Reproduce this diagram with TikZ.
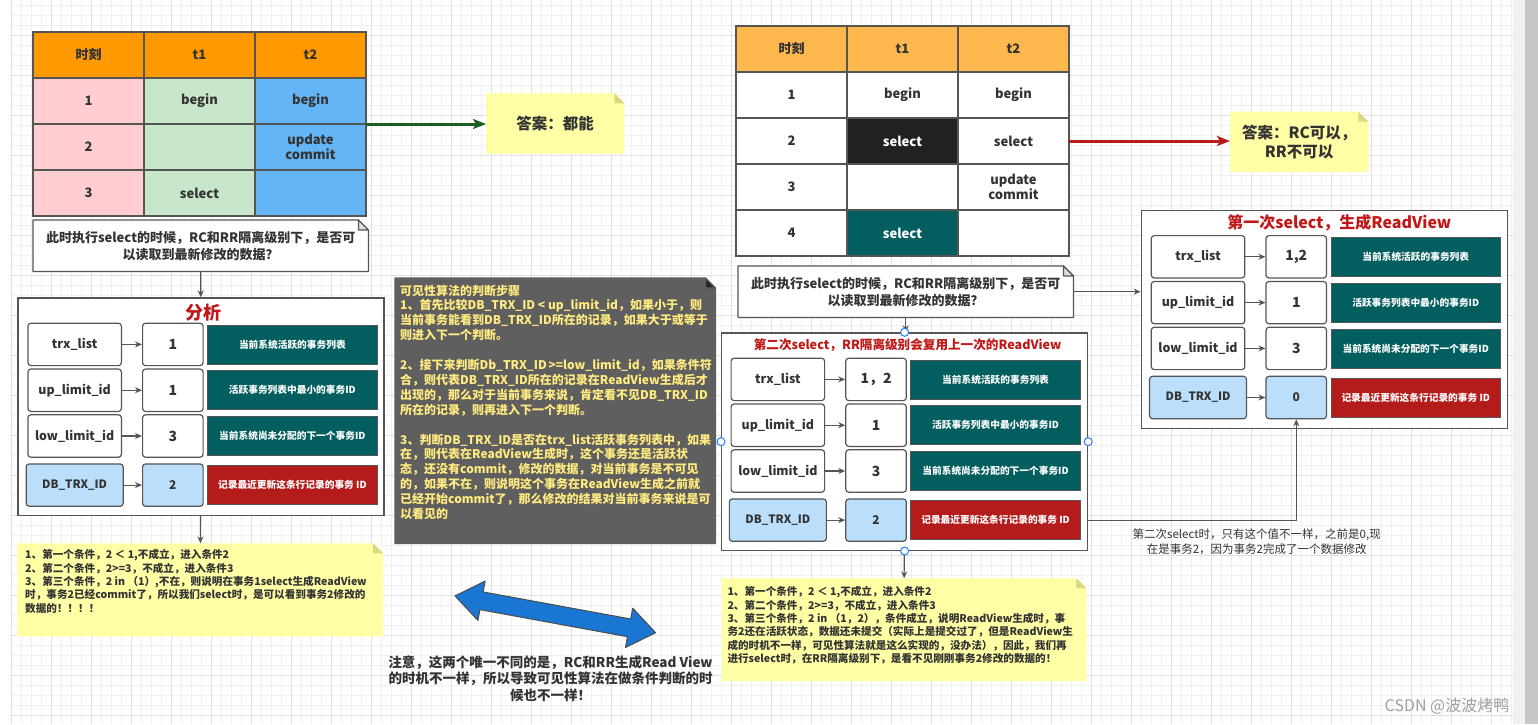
\documentclass[tikz,border=0pt]{standalone}
\usepackage{fontspec}
\setmainfont{Noto Sans CJK SC}
\usepackage{xcolor}
\usepackage{tikz}
\usetikzlibrary{arrows.meta, positioning, backgrounds, calc}
\definecolor{hdrorange}{HTML}{FF9900}
\definecolor{hdrlight}{HTML}{FFB84D}
\definecolor{pinkcell}{HTML}{FFCDD2}
\definecolor{greencell}{HTML}{C8E6C9}
\definecolor{bluecell}{HTML}{64B5F6}
\definecolor{darkcell}{HTML}{212121}
\definecolor{tealfill}{HTML}{035F5F}
\definecolor{redfill}{HTML}{B41C1C}
\definecolor{dbblue}{HTML}{BBDEFB}
\definecolor{linegray}{HTML}{555555}
\definecolor{textgray}{HTML}{333333}
\definecolor{titlered}{HTML}{C01818}
\definecolor{noteyellow}{HTML}{FFFFA6}
\definecolor{foldyellow}{HTML}{D8D880}
\definecolor{darknote}{HTML}{5F5F5F}
\definecolor{darktext}{HTML}{FFEB80}
\definecolor{okgreen}{HTML}{1B5E20}
\definecolor{nored}{HTML}{B71C1C}
\definecolor{swapblue}{HTML}{1976D2}
\definecolor{gridminor}{HTML}{F0F0F0}
\definecolor{gridmajor}{HTML}{E0E0E0}
\definecolor{handleblue}{HTML}{2979FF}

\pgfdeclarelayer{grid}
\pgfsetlayers{grid,background,main}

% note shape with folded corner, drawn behind node #1
\newcommand{\notebg}[4]{%
  \begin{pgfonlayer}{background}
    \filldraw[fill=#2, draw=#3, line width=1.2pt, line join=round]
      (#1.north west) -- ([xshift=-10pt]#1.north east) -- ([yshift=-10pt]#1.north east)
      -- (#1.south east) -- (#1.south west) -- cycle;
    \filldraw[fill=#4, draw=#3, line width=1.2pt, line join=round]
      ([xshift=-10pt]#1.north east) -- ([xshift=-10pt,yshift=-10pt]#1.north east)
      -- ([yshift=-10pt]#1.north east) -- cycle;
  \end{pgfonlayer}}

\tikzset{
  cell/.style={
    rectangle, draw=linegray, line width=1.2pt, outer sep=0pt,
    minimum width=111pt, minimum height=46pt, inner sep=1pt,
    align=center, text=textgray, font=\fontsize{13}{15.5}\selectfont\bfseries,
  },
  hcell/.style={cell, fill=hdrorange},
  lcell/.style={cell, fill=hdrlight},
  pcell/.style={cell, fill=pinkcell},
  gcell/.style={cell, fill=greencell},
  bcell/.style={cell, fill=bluecell},
  wcell/.style={cell, fill=white},
  kcell/.style={cell, fill=darkcell, text=white},
  tcell/.style={cell, fill=tealfill, text=white},
  callout/.style={
    rectangle, minimum width=335pt, minimum height=51pt, inner sep=2pt,
    align=center, text=textgray, font=\fontsize{13}{16.7}\selectfont\bfseries,
  },
  answer/.style={
    rectangle, minimum width=138pt, minimum height=60pt, inner sep=2pt,
    align=center, text=textgray, font=\fontsize{15.5}{19}\selectfont\bfseries,
  },
  panel/.style={
    rectangle, draw=linegray, line width=1.2pt, fill=white,
    minimum width=366pt, minimum height=217.5pt,
  },
  ptitle/.style={text=titlered, inner sep=0pt},
  key/.style={
    rectangle, rounded corners=3pt, draw=linegray, line width=1.2pt, fill=white,
    minimum width=93.5pt, minimum height=42.4pt, inner sep=1pt,
    text=textgray, font=\fontsize{12.4}{15}\selectfont\bfseries,
  },
  dbkey/.style={key, fill=dbblue, minimum width=97pt, font=\fontsize{11.5}{14}\selectfont\bfseries},
  val/.style={key, minimum width=60.5pt, font=\fontsize{14}{16}\selectfont\bfseries},
  dbval/.style={val, fill=dbblue, font=\fontsize{12}{14}\selectfont\bfseries},
  desc/.style={
    rectangle, draw=linegray, line width=0.8pt, fill=tealfill,
    minimum width=169.5pt, minimum height=39pt, inner sep=1pt,
    text=white, font=\fontsize{9.7}{12}\selectfont\bfseries,
  },
  dbdesc/.style={desc, fill=redfill},
  yellownote/.style={
    anchor=north west, text=textgray,
    font=\fontsize{10.6}{13.4}\selectfont\bfseries,
  },
  link/.style={-{Stealth[length=7pt,width=6pt]}, line width=1.1pt, color=linegray},
  okarrow/.style={-{Stealth[length=13pt,width=10pt,inset=3pt]}, line width=3pt, color=okgreen},
  noarrow/.style={-{Stealth[length=13pt,width=10pt,inset=3pt]}, line width=3pt, color=nored},
  handle/.style={circle, draw=handleblue, fill=white, line width=1pt, minimum size=8pt, inner sep=0pt},
}

\begin{document}
\begin{tikzpicture}[x=1pt, y=-1pt]
  \useasboundingbox (0,0) rectangle (1538,724);
  % canvas grid
  \begin{pgfonlayer}{grid}
    \fill[white] (0,0) rectangle (1538,724);
    \foreach \i in {0,...,150} \draw[gridminor, line width=0.8pt] (11.7+\i*10,0) -- (11.7+\i*10,724);
    \foreach \j in {0,...,71} \draw[gridminor, line width=0.8pt] (11.7,5+\j*10) -- (1513,5+\j*10);
    \foreach \i in {0,...,37} \draw[gridmajor, line width=0.8pt] (11.7+\i*40,0) -- (11.7+\i*40,724);
    \foreach \j in {0,...,17} \draw[gridmajor, line width=0.8pt] (11.7,35+\j*40) -- (1513,35+\j*40);
    \fill[gray!12] (1513,0) rectangle (1525,724);
    \fill[gray!45] (1525,0) rectangle (1538,724);
  \end{pgfonlayer}

  % left table
  \node[hcell, anchor=north west] (a00) at (33,32) {时刻};
  \node[hcell, right=0pt of a00] (a01) {t1};
  \node[hcell, right=0pt of a01] (a02) {t2};
  \node[pcell, below=0pt of a00] (a10) {1};
  \node[gcell, below=0pt of a01] (a11) {begin};
  \node[bcell, below=0pt of a02] (a12) {begin};
  \node[pcell, below=0pt of a10] (a20) {2};
  \node[gcell, below=0pt of a11] (a21) {};
  \node[bcell, below=0pt of a12] (a22) {update\\commit};
  \node[pcell, below=0pt of a20] (a30) {3};
  \node[gcell, below=0pt of a21] (a31) {select};
  \node[bcell, below=0pt of a22] (a32) {};

  \node[callout, anchor=north west] (q1) at (33,220) {此时执行select的时候，RC和RR隔离级别下，是否可\\以读取到最新修改的数据？};
  \notebg{q1}{white}{linegray}{gray!25}
  \node[answer, anchor=north west] (ans1) at (486,93.3) {答案：都能};
  \notebg{ans1}{noteyellow}{none}{foldyellow}
  \draw[okarrow] (a12.south east) -- (a12.south east -| ans1.west);

  % analysis panel
  \node[panel, anchor=north west] (ana) at (17.3,297.3) {};
  \node[ptitle, font=\fontsize{18}{20}\selectfont\bfseries] (anaT) at ($(ana.north)+(3,15.4)$) {分析};
  \node[key, below right=25.3pt and 10pt of ana.north west] (ak1) {trx\_list};
  \node[key, below=2.2pt of ak1] (ak2) {up\_limit\_id};
  \node[key, below=2.2pt of ak2] (ak3) {low\_limit\_id};
  \node[dbkey, below=5.5pt of ak3] (ak4) {DB\_TRX\_ID};
  \node[val, right=20pt of ak1] (av1) {1};
  \node[val, below=2.2pt of av1] (av2) {1};
  \node[val, below=2.2pt of av2] (av3) {3};
  \node[dbval, below=5.5pt of av3] (av4) {2};
  \node[desc, right=3.5pt of av1] (ad1) {当前系统活跃的事务列表};
  \node[desc, right=3.5pt of av2] (ad2) {活跃事务列表中最小的事务ID};
  \node[desc, right=3.5pt of av3] (ad3) {当前系统尚未分配的下一个事务ID};
  \node[dbdesc, right=3.5pt of av4] (ad4) {记录最近更新这条行记录的事务 ID};
  \draw[link] (ak1) -- (av1);
  \draw[link] (ak2) -- (av2);
  \draw[link] (ak3) -- (av3);
  \draw[link] (ak4) -- (av4);
  \draw[link] (q1) -- (ana);

  \node[yellownote, inner xsep=7.7pt, inner ysep=6pt] (yn1) at (17.3,543.3) {\parbox[c][80.7pt][t]{350pt}{\raggedright
    1、第一个条件，2~＜~1,不成立，进入条件2\\
    2、第二个条件，2>=3，不成立，进入条件3\\
    3、第三个条件，2~in~（1）,不在，则说明在事务1select生成ReadView\\
    时，事务2已经commit了，所以我们select时，是可以看到事务2修改的\\
    数据的！！！！}};
  \notebg{yn1}{noteyellow}{none}{foldyellow}
  \draw[link] (ana) -- (yn1);

  % visibility rule note
  \node[anchor=north west, inner xsep=5pt, inner ysep=6.5pt, text=darktext,
    font=\fontsize{12}{14.9}\selectfont\bfseries] (dn) at (395,278) {\parbox[c][252pt][t]{310pt}{\raggedright
    可见性算法的判断步骤\\
    1、首先比较DB\_TRX\_ID~<~up\_limit\_id，如果小于，则\\
    当前事务能看到DB\_TRX\_ID所在的记录，如果大于或等于\\
    则进入下一个判断。\\[14.9pt]
    2、接下来判断Db\_TRX\_ID~>=low\_limit\_id，如果条件符\\
    合，则代表DB\_TRX\_ID所在的记录在ReadView生成后才\\
    出现的，那么对于当前事务来说，肯定看不见DB\_TRX\_ID\\
    所在的记录，则再进入下一个判断。\\[14.9pt]
    3、判断DB\_TRX\_ID是否在trx\_list活跃事务列表中，如果\\
    在，则代表在ReadView生成时，这个事务还是活跃状\\
    态，还没有commit，修改的数据，对当前事务是不可见\\
    的，如果不在，则说明这个事务在ReadView生成之前就\\
    已经开始commit了，那么修改的结果对当前事务来说是可\\
    以看见的}};
  \notebg{dn}{darknote}{darknote}{black!85}

  % double arrow and remark
  \begin{scope}[shift={(555.3,614.3)}, rotate=-10.4]
    \filldraw[fill=swapblue, draw=black!70, line width=1pt, line join=round]
      (-102,0) -- (-75,-20) -- (-75,-9) -- (75,-9) -- (75,-20) -- (102,0)
      -- (75,20) -- (75,9) -- (-75,9) -- (-75,20) -- cycle;
  \end{scope}
  \node[align=center, text=textgray, font=\fontsize{13.5}{16.5}\selectfont\bfseries] (nt) at (550.5,678.3)
    {注意，这两个唯一不同的是，RC和RR生成Read View\\的时机不一样，所以导致可见性算法在做条件判断的时\\候也不一样！};

  % right table
  \node[lcell, anchor=north west] (b00) at (736,26) {时刻};
  \node[lcell, right=0pt of b00] (b01) {t1};
  \node[lcell, right=0pt of b01] (b02) {t2};
  \node[wcell, below=0pt of b00] (b10) {1};
  \node[wcell, below=0pt of b01] (b11) {begin};
  \node[wcell, below=0pt of b02] (b12) {begin};
  \node[wcell, below=0pt of b10] (b20) {2};
  \node[kcell, below=0pt of b11] (b21) {select};
  \node[wcell, below=0pt of b12] (b22) {select};
  \node[wcell, below=0pt of b20] (b30) {3};
  \node[wcell, below=0pt of b21] (b31) {};
  \node[wcell, below=0pt of b22] (b32) {update\\commit};
  \node[wcell, below=0pt of b30] (b40) {4};
  \node[tcell, below=0pt of b31] (b41) {select};
  \node[wcell, below=0pt of b32] (b42) {};

  \node[answer, anchor=north west] (ans2) at (1230,111.7) {答案：RC可以，\\RR不可以};
  \notebg{ans2}{noteyellow}{none}{foldyellow}
  \draw[noarrow] (b22.east) -- (b22.east -| ans2.west);

  \node[callout, anchor=north west] (q2) at (738,266) {此时执行select的时候，RC和RR隔离级别下，是否可\\以读取到最新修改的数据？};
  \notebg{q2}{white}{linegray}{gray!25}

  % second select panel
  \node[panel, anchor=north west] (rv2) at (721,332.3) {};
  \node[ptitle, font=\fontsize{12.6}{15}\selectfont\bfseries] (rv2T) at ($(rv2.north)+(3,12.7)$) {第二次select，RR隔离级别会复用上一次的ReadView};
  \node[key, below right=25.3pt and 9.5pt of rv2.north west] (bk1) {trx\_list};
  \node[key, below=2.2pt of bk1] (bk2) {up\_limit\_id};
  \node[key, below=2.2pt of bk2] (bk3) {low\_limit\_id};
  \node[dbkey, below=5.5pt of bk3] (bk4) {DB\_TRX\_ID};
  \node[val, right=20pt of bk1] (bv1) {1，2};
  \node[val, below=2.2pt of bv1] (bv2) {1};
  \node[val, below=2.2pt of bv2] (bv3) {3};
  \node[dbval, below=5.5pt of bv3] (bv4) {2};
  \node[desc, right=3.5pt of bv1] (bd1) {当前系统活跃的事务列表};
  \node[desc, right=3.5pt of bv2] (bd2) {活跃事务列表中最小的事务ID};
  \node[desc, right=3.5pt of bv3] (bd3) {当前系统尚未分配的下一个事务ID};
  \node[dbdesc, right=3.5pt of bv4] (bd4) {记录最近更新这条行记录的事务 ID};
  \draw[link] (bk1) -- (bv1);
  \draw[link] (bk2) -- (bv2);
  \draw[link] (bk3) -- (bv3);
  \draw[link] (bk4) -- (bv4);
  \draw[link] (q2.south) -- (q2.south |- rv2.north);

  \node[yellownote, inner xsep=5.6pt, inner ysep=8pt] (yn2) at (721.7,578.3) {\parbox[c][86.4pt][t]{353pt}{\raggedright
    1、第一个条件，2~＜~1,不成立，进入条件2\\
    2、第二个条件，2>=3，不成立，进入条件3\\
    3、第三个条件，2~in~（1，2），条件成立，说明ReadView生成时，事\\
    务2还在活跃状态，数据还未提交（实际上是提交过了，但是ReadView生\\
    成的时机不一样，可见性算法就是这么实现的，没办法），因此，我们再\\
    进行select时，在RR隔离级别下，是看不见刚刚事务2修改的数据的！}};
  \notebg{yn2}{noteyellow}{none}{foldyellow}
  \draw[link] (rv2) -- (yn2);

  % first select panel
  \node[panel, anchor=north west] (rv1) at (1140.7,210) {};
  \node[ptitle, font=\fontsize{16}{18}\selectfont\bfseries] (rv1T) at ($(rv1.north)+(15,12.3)$) {第一次select，生成ReadView};
  \node[key, below right=25pt and 10pt of rv1.north west] (ck1) {trx\_list};
  \node[key, below=2.2pt of ck1] (ck2) {up\_limit\_id};
  \node[key, below=2.2pt of ck2] (ck3) {low\_limit\_id};
  \node[dbkey, below=5.5pt of ck3] (ck4) {DB\_TRX\_ID};
  \node[val, right=20pt of ck1] (cv1) {1,2};
  \node[val, below=2.2pt of cv1] (cv2) {1};
  \node[val, below=2.2pt of cv2] (cv3) {3};
  \node[dbval, below=5.5pt of cv3] (cv4) {0};
  \node[desc, right=3.5pt of cv1] (cd1) {当前系统活跃的事务列表};
  \node[desc, right=3.5pt of cv2] (cd2) {活跃事务列表中最小的事务ID};
  \node[desc, right=3.5pt of cv3] (cd3) {当前系统尚未分配的下一个事务ID};
  \node[dbdesc, right=3.5pt of cv4] (cd4) {记录最近更新这条行记录的事务 ID};
  \draw[link] (ck1) -- (cv1);
  \draw[link] (ck2) -- (cv2);
  \draw[link] (ck3) -- (cv3);
  \draw[link] (ck4) -- (cv4);
  \draw[link] (q2.east) -- (q2.east -| rv1.west);
  \draw[link] (rv2.east |- bd4) -| (cv4);
  \node[align=center, text=textgray, font=\fontsize{11.5}{14.7}\selectfont] (st) at (1256.7,541.7)
    {第二次select时，只有这个值不一样，之前是0,现\\在是事务2，因为事务2完成了一个数据修改};

  % selection handles
  \node[handle] (h1) at (rv2.north) {};
  \node[handle] (h2) at (rv2.west) {};
  \node[handle] (h3) at (rv2.east) {};
  \node[handle] (h4) at (rv2.south) {};

  \node[text=gray!75, font=\fontsize{16}{18}\selectfont] (mark) at (1447,706) {CSDN @波波烤鸭};
\end{tikzpicture}
\end{document}
